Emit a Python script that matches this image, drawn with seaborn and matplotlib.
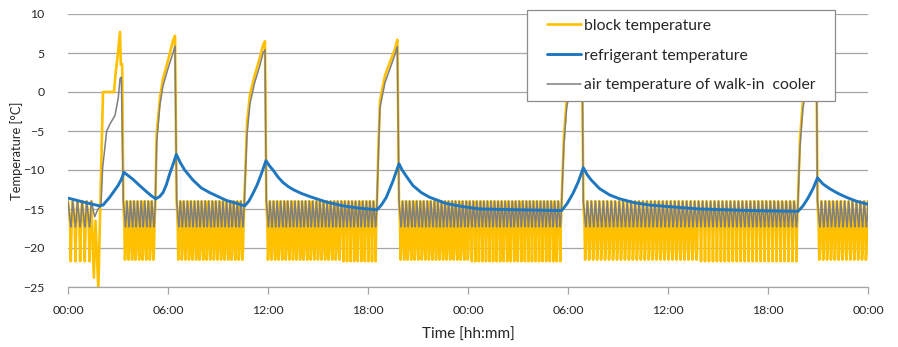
import numpy as np
import pandas as pd
import matplotlib
matplotlib.use("Agg")
import matplotlib.pyplot as plt
import seaborn as sns
from matplotlib.legend_handler import HandlerLine2D

# ---------------- data (time in hours since start, temperature in °C) -------------
tick_hours = [0, 6, 12, 18, 24, 30, 36, 42, 48]
tick_labels = ["00:00", "06:00", "12:00", "18:00", "00:00",
               "06:00", "12:00", "18:00", "00:00"]
y_ticks = [10, 5, 0, -5, -10, -15, -20, -25]

series_names = ["block temperature", "refrigerant temperature",
                "air temperature of walk-in  cooler"]

# refrigerant temperature
ref_t = [0.0, 0.9, 1.9, 2.1, 2.5, 3.0, 3.2, 3.36,
         3.6, 3.9, 4.3, 4.72, 5.0, 5.26,
         5.5, 5.7, 5.9, 6.1, 6.3, 6.5,
         6.75, 7.0, 7.5, 8.0, 8.5, 9.0, 9.5, 10.0, 10.6,
         10.85, 11.1, 11.35, 11.6, 11.88,
         12.1, 12.3, 12.6, 12.9, 13.2, 13.5, 14.0, 14.5, 15.5, 16.5, 17.5, 18.54,
         18.8, 19.1, 19.5, 19.86,
         20.05, 20.3, 20.7, 21.2, 21.7, 22.7, 23.7, 24.7, 27.0, 29.62,
         29.95, 30.3, 30.62, 30.92,
         31.15, 31.4, 31.9, 32.5, 33.1, 34.0, 34.9, 37.9, 41.0, 43.8,
         44.1, 44.4, 44.7, 44.97,
         45.3, 45.7, 46.2, 46.7, 47.3, 48.0]
ref_v = [-13.6, -14.1, -14.6, -14.5, -13.5, -12.0, -11.2, -10.3,
         -10.7, -11.2, -12.0, -12.8, -13.3, -13.7,
         -13.4, -12.9, -11.9, -10.5, -9.3, -8.0,
         -9.1, -10.0, -11.3, -12.3, -12.9, -13.4, -13.9, -14.2, -14.6,
         -14.0, -13.0, -11.9, -10.5, -8.8,
         -9.5, -10.0, -10.9, -11.6, -12.1, -12.5, -13.0, -13.4, -14.1, -14.6, -14.9, -15.1,
         -14.5, -13.5, -11.4, -9.2,
         -10.0, -10.8, -12.0, -12.9, -13.5, -14.3, -14.7, -15.0, -15.1, -15.2,
         -14.3, -13.0, -11.5, -9.7,
         -10.6, -11.3, -12.4, -13.2, -13.7, -14.2, -14.5, -15.0, -15.2, -15.3,
         -14.6, -13.6, -12.4, -11.0,
         -11.8, -12.4, -13.0, -13.5, -14.0, -14.4]

# cooling periods with compressor cycling: start, end, number of cycles,
# number of (early) cycles in which the block stays cold longer
seg_start = [0.00, 3.32, 6.52, 11.90, 19.86, 30.92, 44.97]
seg_end = [1.40, 5.24, 10.58, 18.54, 29.62, 43.80, 48.00]
seg_cycles = [5, 9, 19, 31, 46, 54, 13]
seg_broad = [0, 9, 19, 21, 20, 29, 13]

# one compressor cycle (fraction of cycle, value)
cycle_phase = [0.0, 0.3, 0.45, 0.6, 0.75, 1.0]
block_cycle = [-14.0, -15.8, -17.0, -21.7, -17.5, -14.0]
block_cycle_broad = [-14.0, -17.0, -21.5, -20.5, -17.5, -14.0]
air_cycle = [-14.0, -15.7, -16.6, -17.3, -16.5, -14.0]

# defrost periods
def_block_t = [
    [1.40, 1.55, 1.65, 1.82, 2.10, 2.76, 2.86, 2.98, 3.12, 3.17, 3.25, 3.32],
    [5.24, 5.32, 5.52, 5.70, 6.00, 6.30, 6.42, 6.52],
    [10.58, 10.74, 10.92, 11.20, 11.50, 11.70, 11.82, 11.90],
    [18.54, 18.64, 18.72, 19.02, 19.35, 19.62, 19.76, 19.86],
    [29.62, 29.75, 29.92, 30.20, 30.55, 30.75, 30.84, 30.92],
    [43.80, 43.92, 44.10, 44.35, 44.65, 44.82, 44.90, 44.97],
]
def_block_v = [
    [-14.5, -23.8, -16.5, -25.2, 0.0, 0.0, 2.5, 4.6, 7.7, 3.5, 3.6, -14.0],
    [-14.0, -5.4, -0.7, 1.7, 4.0, 6.6, 7.2, -14.0],
    [-14.0, -4.0, -0.3, 2.1, 4.3, 6.0, 6.5, -14.0],
    [-14.0, -6.0, -1.1, 2.1, 4.0, 5.5, 6.7, -14.0],
    [-14.0, -6.0, -1.0, 2.0, 4.5, 6.3, 6.8, -14.0],
    [-14.0, -6.0, -1.0, 2.0, 4.5, 6.0, 6.5, -14.0],
]
def_air_t = [
    [1.40, 1.60, 1.80, 1.98, 2.08, 2.32, 2.52, 2.82, 3.02, 3.12, 3.20, 3.32],
    [5.24, 5.32, 5.52, 5.70, 6.00, 6.30, 6.42, 6.52],
    [10.58, 10.74, 10.92, 11.20, 11.50, 11.70, 11.82, 11.90],
    [18.54, 18.64, 18.72, 19.02, 19.35, 19.62, 19.76, 19.86],
    [29.62, 29.75, 29.92, 30.20, 30.55, 30.75, 30.84, 30.92],
    [43.80, 43.92, 44.10, 44.35, 44.65, 44.82, 44.90, 44.97],
]
def_air_v = [
    [-14.5, -16.0, -15.0, -14.6, -9.7, -5.0, -4.1, -3.0, -0.7, 1.7, 1.9, -14.0],
    [-14.0, -6.5, -1.6, 0.8, 3.0, 5.0, 5.9, -14.0],
    [-14.0, -5.5, -1.5, 1.2, 3.3, 5.0, 5.4, -14.0],
    [-14.0, -7.0, -2.0, 1.2, 3.2, 4.8, 5.8, -14.0],
    [-14.0, -7.0, -2.0, 1.0, 3.5, 5.2, 5.8, -14.0],
    [-14.0, -7.0, -2.0, 1.0, 3.5, 5.0, 5.5, -14.0],
]


# ---------------- assemble the series -------------
def build(late_vals, early_vals, d_t, d_v):
    ts, vs = [], []
    for i in range(len(seg_start)):
        period = (seg_end[i] - seg_start[i]) / seg_cycles[i]
        for k in range(seg_cycles[i]):
            last = k == seg_cycles[i] - 1
            vals = early_vals if k < seg_broad[i] else late_vals
            for ph, v in zip(cycle_phase, vals):
                if ph == 1.0 and not last:
                    continue
                ts.append(seg_start[i] + (k + ph) * period)
                vs.append(v)
        if i < len(d_t):
            ts.extend(d_t[i])
            vs.extend(d_v[i])
    df = pd.DataFrame({"t": ts, "v": vs}).drop_duplicates("t", keep="first")
    return df


block_df = build(block_cycle, block_cycle_broad, def_block_t, def_block_v)
air_df = build(air_cycle, air_cycle, def_air_t, def_air_v)
ref_df = pd.DataFrame({"t": ref_t, "v": ref_v})

# ---------------- plot -------------
sns.set_theme(style="white")
plt.rcParams["font.family"] = ["Lato", "DejaVu Sans"]

W, H = 898, 347
fig = plt.figure(figsize=(W / 100, H / 100), dpi=100)
ax = fig.add_axes([68 / W, 1 - 287 / H, 800 / W, 273 / H])

c_block, c_ref, c_air = "#FFC000", "#1F77C0", "#7F7F7F"

sns.lineplot(data=block_df, x="t", y="v", estimator=None, sort=False, ax=ax,
             color=c_block, lw=1.9, label=series_names[0], zorder=2)
sns.lineplot(data=ref_df, x="t", y="v", estimator=None, sort=False, ax=ax,
             color=c_ref, lw=2.1, label=series_names[1], zorder=4)
sns.lineplot(data=air_df, x="t", y="v", estimator=None, sort=False, ax=ax,
             color=c_air, lw=1.1, label=series_names[2], zorder=3)

ax.set_xlim(0, 48)
ax.set_ylim(-25, 10)
ax.set_yticks(y_ticks)
ax.set_xticks(tick_hours)
ax.set_xticklabels(tick_labels)

ax.yaxis.grid(True, color="#A6A6A6", lw=0.9)
ax.xaxis.grid(False)
ax.set_axisbelow(True)
for s in ["left", "top", "right"]:
    ax.spines[s].set_visible(False)
ax.spines["bottom"].set_color("#A6A6A6")
ax.spines["bottom"].set_linewidth(0.9)

ax.tick_params(axis="y", length=0, pad=17, labelsize=8.8, labelcolor="#262626")
ax.tick_params(axis="x", length=5, width=0.9, color="#A6A6A6", direction="out",
               pad=8, labelsize=8.8, labelcolor="#262626", bottom=True)

ax.set_xlabel("Time [hh:mm]", fontsize=11, color="#262626")
ax.set_ylabel("Temperature [°C]", fontsize=9.3, color="#262626")
ax.xaxis.set_label_coords(0.5, -0.150)
ax.yaxis.set_label_coords(-0.056, 0.5)

handles, labels = ax.get_legend_handles_labels()
hmap = {h: HandlerLine2D(xpad=0.7) for h in handles}
leg = ax.legend(handles, labels, loc="upper left",
                bbox_to_anchor=(0.574, 0.667, 0.385, 0.348), mode="expand",
                fontsize=11.3, frameon=True, fancybox=False, framealpha=1,
                edgecolor="#8C8C8C", labelspacing=1.0, borderpad=0.57,
                handlelength=2.87, handletextpad=0.2, borderaxespad=0,
                handler_map=hmap)
leg.get_frame().set_linewidth(0.9)
leg.set_zorder(10)
for t in leg.get_texts():
    t.set_color("#262626")

fig.savefig("out.png", dpi=100)
